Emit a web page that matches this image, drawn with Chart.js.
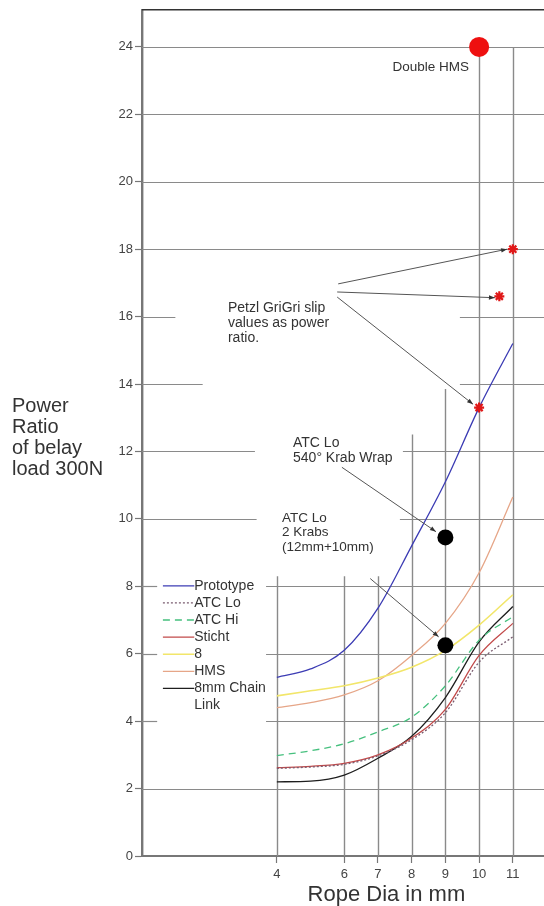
<!DOCTYPE html>
<html>
<head>
<meta charset="utf-8">
<script src="https://cdn.jsdelivr.net/npm/chart.js@4.4.0/dist/chart.umd.min.js"></script>
<style>
  html, body { margin: 0; padding: 0; background: #fff; overflow: hidden; }
  #wrap { width: 544px; height: 906px; }
  canvas { display: block; }
</style>
</head>
<body>
<div id="wrap"><canvas id="chart" width="544" height="906"></canvas></div>
<script>
// Rope diameter (mm) and the power ratio each belay device gives at a 300N load
const ropeDia = [4, 5, 6, 7, 8, 9, 10, 11];
const prototypeRatio = [5.3, 5.55, 6.1, 7.35, 9.2, 11.1, 13.3, 15.2];
const atcLoRatio     = [2.6, 2.64, 2.72, 2.97, 3.45, 4.25, 5.75, 6.5];
const atcHiRatio     = [2.98, 3.12, 3.33, 3.68, 4.12, 5.05, 6.4, 7.1];
const stichtRatio    = [2.62, 2.66, 2.75, 3.0, 3.5, 4.35, 5.95, 6.9];
const figure8Ratio   = [4.75, 4.9, 5.05, 5.28, 5.6, 6.1, 6.85, 7.75];
const hmsRatio       = [4.4, 4.55, 4.78, 5.2, 5.95, 6.9, 8.4, 10.65];
const chainLinkRatio = [2.2, 2.22, 2.4, 2.9, 3.55, 4.7, 6.35, 7.4];

// Single measurements
const doubleHmsDia = [10];
const doubleHmsRatio = [24];
const grigriDia = [11, 10.6, 10];
const grigriRatio = [18, 16.6, 13.3];
const krabDia = [9, 9];
const krabRatio = [9.45, 6.25];

// Axis ticks
const xTickValues = [4, 6, 7, 8, 9, 10, 11];
const yTickValues = [0, 2, 4, 6, 8, 10, 12, 14, 16, 18, 20, 22, 24];

const FONT = '"Liberation Sans", Arial, Helvetica, sans-serif';
const pts = (xs, ys) => xs.map((v, i) => ({ x: v, y: ys[i] }));

function lineSet(label, values, color, extra) {
  return Object.assign({
    type: 'line',
    label,
    data: pts(ropeDia, values),
    borderColor: color,
    borderWidth: 1.3,
    pointRadius: 0,
    fill: false,
    cubicInterpolationMode: 'monotone',
    order: 2
  }, extra || {});
}

const datasets = [
  { type: 'scatter', label: 'Double HMS', data: pts(doubleHmsDia, doubleHmsRatio),
    pointRadius: 10, backgroundColor: '#ee1010', borderColor: '#ee1010', borderWidth: 0, order: 0 },
  { type: 'scatter', label: 'Petzl GriGri', data: pts(grigriDia, grigriRatio),
    pointStyle: 'star', pointRadius: 5, borderColor: '#e01818', borderWidth: 2.2, backgroundColor: '#e01818', order: 0 },
  { type: 'scatter', label: 'ATC Lo krabs', data: pts(krabDia, krabRatio),
    pointRadius: 8, backgroundColor: '#000', borderColor: '#000', borderWidth: 0, order: 0 },
  lineSet('Prototype', prototypeRatio, '#3c3cb4'),
  lineSet('ATC Lo', atcLoRatio, '#7a5c70', { borderDash: [2, 2] }),
  lineSet('ATC Hi', atcHiRatio, '#46c07e', { borderDash: [7, 5] }),
  lineSet('Sticht', stichtRatio, '#c24a4a'),
  lineSet('8', figure8Ratio, '#f2e66a', { borderWidth: 1.6 }),
  lineSet('HMS', hmsRatio, '#e6a688'),
  lineSet('8mm Chain\nLink', chainLinkRatio, '#1e1e1e')
];

// Partial gridlines: [value, from, to] in data units
const hGrid = [
  [24, 0, 12], [22, 0, 12], [20, 0, 12], [18, 0, 12],
  [16, 0, 0.99], [16, 9.43, 12],
  [14, 0, 1.8], [14, 9.43, 12],
  [12, 0, 3.35], [12, 7.74, 12],
  [10, 0, 3.4], [10, 7.65, 12],
  [8, 0, 0.45], [8, 3.68, 12],
  [6, 0, 0.45], [6, 3.68, 12],
  [4, 0, 0.45], [4, 3.68, 12],
  [2, 0, 12]
];
const vGrid = [
  [4, 0, 8.3], [6, 0, 8.3], [7, 0, 8.3], [8, 0, 12.5], [9, 0, 13.85],
  [10, 0, 24], [11, 0, 24]
];

const overlay = {
  id: 'overlay',
  beforeDatasetsDraw(chart) {
    const { ctx, scales: { x, y }, chartArea: a } = chart;
    ctx.save();
    ctx.strokeStyle = '#8a8a8a';
    ctx.lineWidth = 1.2;
    hGrid.forEach(([v, f, t]) => {
      const py = Math.round(y.getPixelForValue(v)) + 0.5;
      ctx.beginPath();
      ctx.moveTo(x.getPixelForValue(f), py);
      ctx.lineTo(Math.min(x.getPixelForValue(t), a.right), py);
      ctx.stroke();
    });
    ctx.strokeStyle = '#8a8a8a';
    ctx.lineWidth = 1.4;
    vGrid.forEach(([v, f, t]) => {
      const px = Math.round(x.getPixelForValue(v)) + 0.5;
      ctx.beginPath();
      ctx.moveTo(px, y.getPixelForValue(f));
      ctx.lineTo(px, y.getPixelForValue(t));
      ctx.stroke();
    });
    // frame along the top
    ctx.strokeStyle = '#333';
    ctx.lineWidth = 1.6;
    ctx.beginPath();
    ctx.moveTo(a.left, a.top);
    ctx.lineTo(a.right, a.top);
    ctx.stroke();
    ctx.restore();
  },
  afterDatasetsDraw(chart) {
    const { ctx, scales: { x, y } } = chart;
    const X = v => x.getPixelForValue(v);
    const Y = v => y.getPixelForValue(v);
    ctx.save();

    // notes
    ctx.fillStyle = '#333';
    ctx.font = '14px ' + FONT;
    ctx.textBaseline = 'middle';
    ctx.textAlign = 'left';
    const note = (lines, vx, vy, lh) => {
      lines.forEach((s, i) => ctx.fillText(s, X(vx), Y(vy) + i * lh));
    };
    note(['Petzl GriGri slip', 'values as power', 'ratio.'], 2.55, 16.24, 15);
    note(['ATC Lo', '540\u00b0 Krab Wrap'], 4.48, 12.24, 14.5);
    ctx.font = '13.5px ' + FONT;
    note(['ATC Lo', '2 Krabs', '(12mm+10mm)'], 4.15, 10.02, 14.5);

    ctx.font = '13.5px ' + FONT;
    ctx.textAlign = 'right';
    ctx.fillText('Double HMS', X(10) - 10, Y(24) + 20);

    // pointer arrows
    const arrow = (x1, y1, x2, y2) => {
      const ax = X(x1), ay = Y(y1), bx = X(x2), by = Y(y2);
      ctx.strokeStyle = '#555';
      ctx.fillStyle = '#333';
      ctx.lineWidth = 1;
      ctx.beginPath();
      ctx.moveTo(ax, ay);
      ctx.lineTo(bx, by);
      ctx.stroke();
      const ang = Math.atan2(by - ay, bx - ax);
      const L = 6, W = 2.2;
      ctx.beginPath();
      ctx.moveTo(bx, by);
      ctx.lineTo(bx - L * Math.cos(ang) + W * Math.sin(ang), by - L * Math.sin(ang) - W * Math.cos(ang));
      ctx.lineTo(bx - L * Math.cos(ang) - W * Math.sin(ang), by - L * Math.sin(ang) + W * Math.cos(ang));
      ctx.closePath();
      ctx.fill();
    };
    arrow(5.82, 16.97, 10.83, 18.0);
    arrow(5.79, 16.73, 10.47, 16.56);
    arrow(5.79, 16.58, 9.82, 13.4);
    arrow(5.93, 11.53, 8.72, 9.62);
    arrow(6.77, 8.23, 8.8, 6.5);

    // legend inside the plot
    const lx0 = X(0.62), lx1 = X(1.55);
    let ly = Y(8) - 0.5;
    ctx.font = '14px ' + FONT;
    ctx.textAlign = 'left';
    ctx.textBaseline = 'middle';
    chart.data.datasets.filter(d => d.type === 'line').forEach(d => {
      ctx.save();
      ctx.strokeStyle = d.borderColor;
      ctx.lineWidth = d.borderWidth;
      ctx.setLineDash(d.borderDash || []);
      ctx.beginPath();
      ctx.moveTo(lx0, ly);
      ctx.lineTo(lx1, ly);
      ctx.stroke();
      ctx.restore();
      ctx.fillStyle = '#333';
      d.label.split('\n').forEach((s, i) => {
        ctx.fillText(s, lx1, ly + i * 16.5);
      });
      ly += 17.1 * d.label.split('\n').length;
    });
    ctx.restore();
  },
  afterDraw(chart) {
    const { ctx, scales: { x } } = chart;
    ctx.save();
    ctx.fillStyle = '#333';
    ctx.textBaseline = 'alphabetic';
    ctx.textAlign = 'left';
    ctx.font = '20px ' + FONT;
    ['Power', 'Ratio', 'of belay', 'load 300N'].forEach((s, i) => {
      ctx.fillText(s, 12, 412 + i * 21);
    });
    ctx.font = '22px ' + FONT;
    ctx.textAlign = 'center';
    ctx.fillText('Rope Dia in mm', x.getPixelForValue(7.25), 901);
    ctx.restore();
  }
};

new Chart(document.getElementById('chart'), {
  data: { datasets },
  plugins: [overlay],
  options: {
    responsive: false,
    animation: false,
    layout: { autoPadding: false, padding: { top: 9, right: 0, left: 0, bottom: 0 } },
    plugins: { legend: { display: false }, tooltip: { enabled: false } },
    scales: {
      x: {
        type: 'linear',
        min: 0,
        max: 11.925,
        afterBuildTicks: s => { s.ticks = xTickValues.map(v => ({ value: v })); },
        afterFit: s => { s.height = 50; },
        grid: { drawOnChartArea: false, drawTicks: true, tickLength: 7, color: '#777', tickWidth: 1.2 },
        border: { display: true, color: '#777', width: 2 },
        ticks: { font: { size: 13, family: FONT }, color: '#444', padding: 4, maxRotation: 0, autoSkip: false }
      },
      y: {
        type: 'linear',
        min: 0,
        max: 25.1,
        afterBuildTicks: s => { s.ticks = yTickValues.map(v => ({ value: v })); },
        afterFit: s => { s.width = 142; },
        grid: { drawOnChartArea: false, drawTicks: true, tickLength: 7, color: '#777', tickWidth: 1.2 },
        border: { display: true, color: '#777', width: 2.4 },
        ticks: { font: { size: 13, family: FONT }, color: '#444', padding: 2, autoSkip: false }
      }
    }
  }
});
</script>
</body>
</html>
